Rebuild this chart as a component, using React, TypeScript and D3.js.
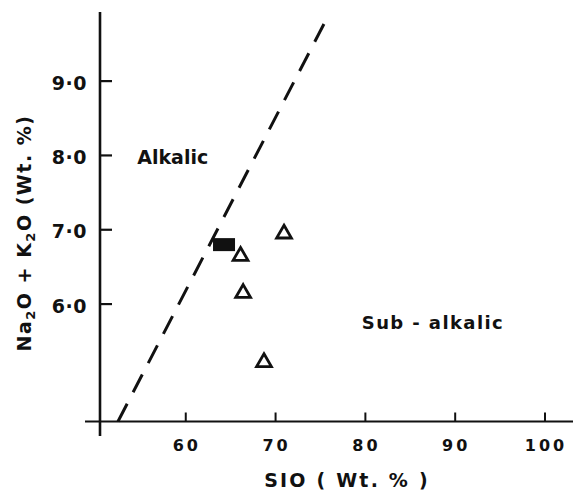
import * as d3 from "d3";

const W = 582;
const H = 490;

// axes
const xDomain = [50.45, 100];
const yDomain = [4.42, 9.93];
const xTicks = [60, 70, 80, 90, 100];
const xTickLabels = ["60", "70", "80", "90", "100"];
const yTicks = [6, 7, 8, 9];
const yTickLabels = ["6·0", "7·0", "8·0", "9·0"];

// samples (SiO2, Na2O + K2O)
const triangleSi = [70.94, 66.1, 66.39, 68.71];
const triangleAlk = [6.96, 6.66, 6.16, 5.23];
const squareSi = [64.26];
const squareAlk = [6.8];

// alkalic / sub-alkalic divide
const divideSi = [52.45, 75.39];
const divideAlk = [4.42, 9.77];

const font = "'DejaVu Sans', 'Liberation Sans', sans-serif";
const ink = "#111";

export default function App() {
  const x = d3.scaleLinear().domain(xDomain).range([100, 545]);
  const y = d3.scaleLinear().domain(yDomain).range([421.5, 12]);

  const triangle = d3.symbol().type(d3.symbolTriangle).size(95)();
  const divide = d3
    .line<number>()
    .x((d) => x(divideSi[d]))
    .y((d) => y(divideAlk[d]))([0, 1]);

  const axisY = y(yDomain[0]);

  return (
    <svg
      width={W}
      height={H}
      style={{ position: "absolute", left: 0, top: 0, background: "#fff" }}
      fontFamily={font}
      fontWeight="bold"
      fill={ink}
    >
      {/* y axis */}
      <line x1={x(xDomain[0])} x2={x(xDomain[0])} y1={12} y2={436} stroke={ink} strokeWidth={2.6} />
      {yTicks.map((t, i) => (
        <g key={t}>
          <line x1={x(xDomain[0])} x2={x(xDomain[0]) + 12} y1={y(t)} y2={y(t)} stroke={ink} strokeWidth={2.2} />
          <text x={87} y={y(t) + 8.5} textAnchor="end" fontSize={19} letterSpacing={0.5}>
            {yTickLabels[i]}
          </text>
        </g>
      ))}

      {/* x axis */}
      <line x1={85} x2={573} y1={axisY} y2={axisY} stroke={ink} strokeWidth={2.2} />
      {xTicks.map((t, i) => (
        <g key={t}>
          <line x1={x(t)} x2={x(t)} y1={axisY} y2={axisY - 9} stroke={ink} strokeWidth={2} />
          <text x={x(t) + 1} y={451} textAnchor="middle" fontSize={16} letterSpacing={3}>
            {xTickLabels[i]}
          </text>
        </g>
      ))}

      {/* axis titles */}
      <text x={347} y={487} textAnchor="middle" fontSize={19} letterSpacing={2.2}>
        SIO ( Wt. % )
      </text>
      <text
        transform={`translate(31, 233) rotate(-90)`}
        textAnchor="middle"
        fontSize={19}
        letterSpacing={1.5}
      >
        Na<tspan fontSize={13} dy={4}>2</tspan>
        <tspan dy={-4}>O + K</tspan>
        <tspan fontSize={13} dy={4}>2</tspan>
        <tspan dy={-4}>O (Wt. %)</tspan>
      </text>

      {/* divide line */}
      <path d={divide ?? ""} fill="none" stroke={ink} strokeWidth={3} strokeDasharray="20 12.9" />

      {/* field labels */}
      <text x={x(54.6)} y={y(7.88)} fontSize={19}>
        Alkalic
      </text>
      <text x={x(79.6)} y={y(5.66)} fontSize={18} letterSpacing={1.4}>
        Sub - alkalic
      </text>

      {/* samples */}
      {squareSi.map((s, i) => (
        <rect key={i} x={x(s) - 11} y={y(squareAlk[i]) - 6.5} width={22} height={13} fill={ink} />
      ))}
      {triangleSi.map((s, i) => (
        <path
          key={i}
          d={triangle ?? ""}
          transform={`translate(${x(s)}, ${y(triangleAlk[i]) + 1})`}
          fill="none"
          stroke={ink}
          strokeWidth={2.8}
        />
      ))}
    </svg>
  );
}
